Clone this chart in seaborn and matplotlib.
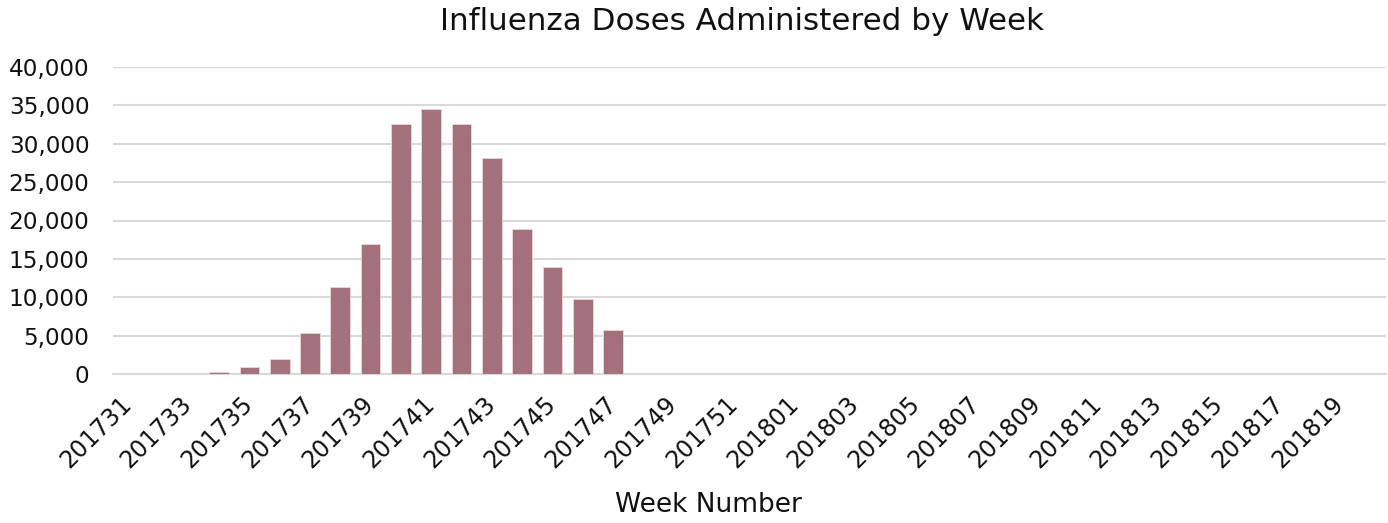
import matplotlib
matplotlib.use("Agg")
import matplotlib.pyplot as plt
import matplotlib.transforms as mtransforms
import seaborn as sns
import pandas as pd
from matplotlib.ticker import FuncFormatter, MultipleLocator

weeks_2017 = [f"2017{w:02d}" for w in range(31, 53)]
weeks_2018 = [f"2018{w:02d}" for w in range(1, 21)]
weeks = weeks_2017 + weeks_2018

doses_2017 = [0, 0, 0, 200, 850, 1950, 5400, 11400, 16900, 32600, 34500, 32600,
              28200, 18850, 13900, 9800, 5700, 0, 0, 0, 0, 0]
doses_2018 = [0] * 20
doses = doses_2017 + doses_2018

title = "Influenza Doses Administered by Week"
xlabel = "Week Number"

df = pd.DataFrame({"week": weeks, "doses": doses})

sns.set_theme(style="white")
plt.rcParams["font.family"] = ["DejaVu Sans"]

fig = plt.figure(figsize=(13.88, 5.23), dpi=100)
ax = fig.add_axes([113 / 1388, 1 - 374 / 523, (1386 - 113) / 1388, (374 - 67) / 523])

sns.barplot(data=df, x="week", y="doses", color="#A2717B", saturation=1,
            width=0.65, ax=ax, edgecolor="#E8D8DB", linewidth=0.6, zorder=3)

ax.set_ylim(0, 40000)
ax.set_xlim(-0.5, len(weeks) - 0.5)
ax.yaxis.set_major_locator(MultipleLocator(5000))
ax.yaxis.set_major_formatter(FuncFormatter(lambda v, p: f"{int(v):,}"))
ax.grid(axis="y", color="#D9D9D9", linewidth=1.5, zorder=0)
ax.grid(axis="x", visible=False)
for s in ["top", "right", "left"]:
    ax.spines[s].set_visible(False)
ax.spines["bottom"].set_color("#D9D9D9")
ax.spines["bottom"].set_linewidth(1.5)

ax.set_xticks(range(0, len(weeks), 2))
ax.set_xticklabels(weeks[::2], rotation=45, ha="right", rotation_mode="anchor",
                   fontsize=17, color="#111111")
ax.tick_params(axis="x", length=0, pad=13)
ax.tick_params(axis="y", length=0, pad=17, labelsize=16.7, labelcolor="#111111")
offset = mtransforms.ScaledTranslation(-9 / 100, 0, fig.dpi_scale_trans)
for t in ax.get_xticklabels():
    t.set_transform(t.get_transform() + offset)

ax.set_xlabel("")
ax.set_ylabel("")
fig.text(708 / 1388, 1 - 505 / 523, xlabel, ha="center", va="center", fontsize=19, color="#111111")
fig.text(742 / 1388, 1 - 22 / 523, title, ha="center", va="center", fontsize=22.3, color="#111111")

fig.savefig("out.png", dpi=100, facecolor="white")
